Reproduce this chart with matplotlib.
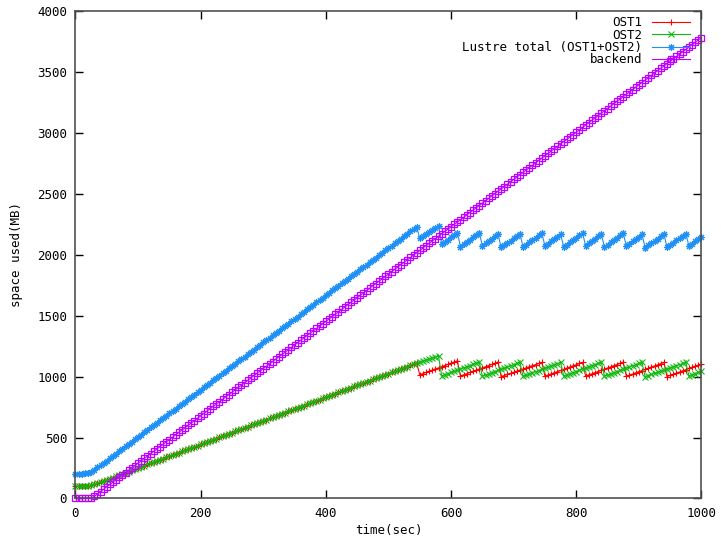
import matplotlib
matplotlib.use('Agg')
import matplotlib.pyplot as plt

# Datos (muestras cada 5 segundos)

tiempo = list(range(0, 1001, 5))

ost1 = [100, 100, 100, 101, 103, 108, 116, 125, 134, 144,
	153, 163, 172, 182, 192, 201, 211, 221, 231, 240,
	250, 260, 269, 279, 289, 298, 308, 318, 327, 337,
	347, 356, 366, 376, 386, 395, 405, 415, 424, 434,
	444, 453, 463, 473, 482, 492, 502, 512, 521, 531,
	541, 550, 560, 570, 579, 589, 599, 608, 618, 628,
	638, 647, 657, 667, 676, 686, 696, 705, 715, 725,
	734, 744, 754, 763, 773, 783, 793, 802, 812, 822,
	831, 841, 851, 860, 870, 880, 889, 899, 909, 919,
	928, 938, 948, 957, 967, 977, 986, 996, 1006, 1015,
	1025, 1035, 1044, 1054, 1064, 1074, 1083, 1093, 1103, 1112,
	1015, 1025, 1034, 1044, 1053, 1063, 1072, 1082, 1091, 1101, 1110, 1120, 1129,
	1005, 1015, 1024, 1034, 1043, 1053, 1062, 1072, 1081, 1091, 1100, 1110, 1119,
	1000, 1009, 1018, 1027, 1036, 1045, 1054, 1063, 1072, 1081, 1090, 1099, 1108, 1117,
	1003, 1013, 1022, 1032, 1041, 1051, 1060, 1070, 1079, 1089, 1098, 1108, 1117,
	1004, 1014, 1023, 1033, 1042, 1052, 1061, 1071, 1080, 1090, 1099, 1109, 1118,
	1002, 1012, 1021, 1031, 1040, 1050, 1059, 1069, 1078, 1088, 1097, 1107, 1116,
	1000, 1010, 1019, 1029, 1038, 1048, 1057, 1067, 1076, 1086, 1095, 1105]

ost2 = [100, 100, 100, 101, 103, 108, 116, 125, 134, 144,
	153, 163, 172, 182, 192, 201, 211, 221, 231, 240,
	250, 260, 269, 279, 289, 298, 308, 318, 327, 337,
	347, 356, 366, 376, 386, 395, 405, 415, 424, 434,
	444, 453, 463, 473, 482, 492, 502, 512, 521, 531,
	541, 550, 560, 570, 579, 589, 599, 608, 618, 628,
	638, 647, 657, 667, 676, 686, 696, 705, 715, 725,
	734, 744, 754, 763, 773, 783, 793, 802, 812, 822,
	831, 841, 851, 860, 870, 880, 889, 899, 909, 919,
	928, 938, 948, 957, 967, 977, 986, 996, 1006, 1015,
	1025, 1035, 1044, 1054, 1064, 1074, 1083, 1093, 1103, 1112,
	1120, 1128, 1136, 1144, 1152, 1160, 1168,
	1005, 1015, 1024, 1034, 1043, 1053, 1062, 1072, 1081, 1091, 1100, 1110, 1119,
	1003, 1013, 1022, 1032, 1041, 1051, 1060, 1070, 1079, 1089, 1098, 1108, 1117,
	1002, 1012, 1021, 1031, 1040, 1050, 1059, 1069, 1078, 1088, 1097, 1107, 1116,
	1004, 1014, 1023, 1033, 1042, 1052, 1061, 1071, 1080, 1090, 1099, 1109, 1118,
	1003, 1013, 1022, 1032, 1041, 1051, 1060, 1070, 1079, 1089, 1098, 1108, 1117,
	1000, 1009, 1018, 1027, 1036, 1045, 1054, 1063, 1072, 1081, 1090, 1099, 1108, 1117,
	1005, 1015, 1024, 1034, 1043]

lustre = [205, 205, 205, 207, 211, 221, 237, 255, 273, 293,
	311, 331, 349, 369, 389, 407, 427, 447, 467, 485,
	505, 525, 543, 563, 583, 601, 621, 641, 659, 679,
	699, 717, 737, 757, 777, 795, 815, 835, 853, 873,
	893, 911, 931, 951, 969, 989, 1009, 1029, 1047, 1067,
	1087, 1105, 1125, 1145, 1163, 1183, 1203, 1221, 1241, 1261,
	1281, 1299, 1319, 1339, 1357, 1377, 1397, 1415, 1435, 1455,
	1473, 1493, 1513, 1531, 1551, 1571, 1591, 1609, 1629, 1649,
	1667, 1687, 1707, 1725, 1745, 1765, 1783, 1803, 1823, 1843,
	1861, 1881, 1901, 1919, 1939, 1959, 1977, 1997, 2017, 2035,
	2055, 2075, 2093, 2113, 2133, 2153, 2171, 2191, 2211, 2229,
	2135, 2153, 2170, 2188, 2205, 2223, 2240,
	2087, 2106, 2125, 2144, 2163, 2182,
	2067, 2087, 2105, 2125, 2143, 2163, 2181,
	2075, 2094, 2113, 2132, 2151, 2170,
	2060, 2079, 2097, 2116, 2134, 2153, 2171,
	2065, 2084, 2102, 2121, 2139, 2158, 2176,
	2072, 2091, 2110, 2129, 2148, 2167,
	2064, 2084, 2102, 2122, 2140, 2160, 2178,
	2075, 2094, 2113, 2132, 2151, 2170,
	2064, 2084, 2102, 2122, 2140, 2160, 2178,
	2072, 2091, 2110, 2129, 2148, 2167,
	2059, 2078, 2096, 2115, 2133, 2152, 2170,
	2063, 2082, 2100, 2119, 2137, 2156, 2174,
	2072, 2091, 2110, 2129, 2148]

backend = [0, 0, 0, 0, 0, 3, 17, 37,
	57, 76, 96, 115, 135, 154, 173, 193, 212, 232,
	251, 270, 290, 309, 329, 348, 367, 387, 406, 426,
	445, 464, 484, 503, 523, 542, 561, 581, 600, 620,
	639, 658, 678, 697, 717, 736, 755, 775, 794, 814,
	833, 852, 872, 891, 911, 930, 949, 969, 988, 1008,
	1027, 1046, 1066, 1085, 1105, 1124, 1143, 1163, 1182, 1202,
	1221, 1240, 1260, 1279, 1299, 1318, 1337, 1357, 1376, 1396,
	1415, 1434, 1454, 1473, 1493, 1512, 1531, 1551, 1570, 1590,
	1609, 1628, 1648, 1667, 1687, 1706, 1725, 1745, 1764, 1784,
	1803, 1822, 1842, 1861, 1881, 1900, 1919, 1939, 1958, 1978,
	1997, 2016, 2036, 2055, 2075, 2094, 2113, 2133, 2152, 2172,
	2191, 2210, 2230, 2249, 2269, 2288, 2307, 2327, 2346, 2366,
	2385, 2404, 2424, 2443, 2463, 2482, 2501, 2521, 2540, 2560,
	2579, 2598, 2618, 2637, 2657, 2676, 2695, 2715, 2734, 2754,
	2773, 2792, 2812, 2831, 2851, 2870, 2889, 2909, 2928, 2948,
	2967, 2986, 3006, 3025, 3045, 3064, 3083, 3103, 3122, 3142,
	3161, 3180, 3200, 3219, 3239, 3258, 3277, 3297, 3316, 3336,
	3355, 3374, 3394, 3413, 3433, 3452, 3471, 3491, 3510, 3530,
	3549, 3568, 3588, 3607, 3627, 3646, 3665, 3685, 3704, 3724,
	3743, 3762, 3782]

etiquetas = ['OST1', 'OST2', 'Lustre total (OST1+OST2)', 'backend']
colores = ['#ff0000', '#10b810', '#1e8ff5', '#c000ff']

# Grafico estilo gnuplot

plt.rcParams['font.family'] = 'DejaVu Sans Mono'
plt.rcParams['font.size'] = 9

fig = plt.figure(figsize=(7.21, 5.37), dpi=100)
ax = fig.add_axes([0.1047, 0.0717, 0.8682, 0.9078])

ax.plot(tiempo, ost1, color=colores[0], marker='+', markersize=5, markeredgewidth=0.8,
	linewidth=0.8, label=etiquetas[0], clip_on=False)
ax.plot(tiempo, ost2, color=colores[1], marker='x', markersize=4, markeredgewidth=0.8,
	linewidth=0.8, label=etiquetas[1], clip_on=False)
ax.plot(tiempo, lustre, color=colores[2], marker=(8, 2, 0), markersize=5, markeredgewidth=0.8,
	linewidth=0.8, label=etiquetas[2], clip_on=False)
ax.plot(tiempo, backend, color=colores[3], marker='s', markersize=4.5, markeredgewidth=0.9,
	fillstyle='none', linewidth=0.8, label=etiquetas[3], clip_on=False)

ax.set_xlim(0, 1000)
ax.set_ylim(0, 4000)
ax.set_xticks([0, 200, 400, 600, 800, 1000])
ax.set_yticks([0, 500, 1000, 1500, 2000, 2500, 3000, 3500, 4000])
ax.tick_params(direction='in', top=True, right=True, length=6, width=1, pad=6)
for lado in ax.spines.values():
	lado.set_color('#505050')
	lado.set_linewidth(1.2)

ax.set_xlabel('time(sec)', labelpad=3)
ax.set_ylabel('space used(MB)', labelpad=10)

ax.legend(loc='upper right', frameon=False, markerfirst=False, numpoints=1,
	handlelength=3.0, labelspacing=-0.05, borderaxespad=0.4, handletextpad=0.8,
	bbox_to_anchor=(0.997, 1.01))

plt.savefig('out.png', dpi=100)
